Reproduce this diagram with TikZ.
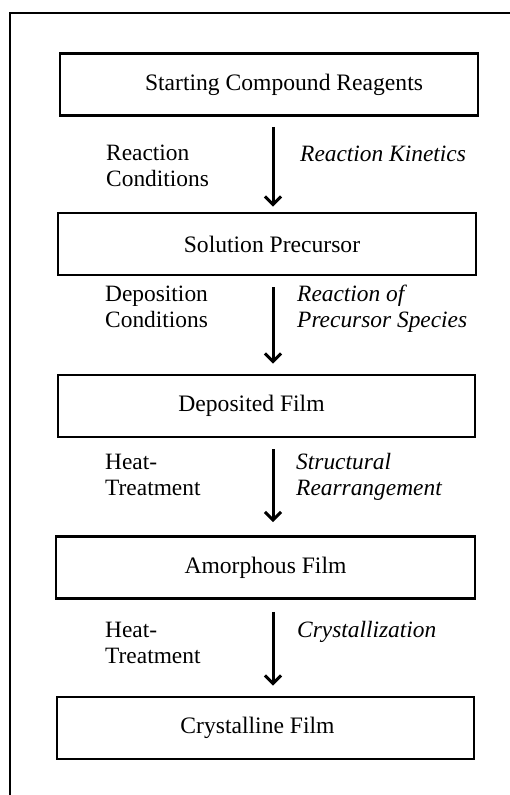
\documentclass[tikz,border=0pt]{standalone}
\usepackage{fontspec}
\setmainfont{Liberation Serif}
\usetikzlibrary{arrows.meta}
\begin{document}
\begin{tikzpicture}[x=1pt,y=-1pt,
  box/.style={draw, line width=2.8pt, minimum height=62pt, inner sep=0pt,
    font=\fontsize{23.6}{26}\selectfont},
  lbl/.style={anchor=base west, align=left, inner sep=0pt,
    font=\fontsize{23.4}{26}\selectfont},
  ilbl/.style={lbl, font=\fontsize{23.4}{26}\selectfont\itshape},
  arr/.style={line width=3pt,
    -{Straight Barb[length=8pt,width=16pt,line width=3pt]}},
  frame/.style={line width=1.8pt}]
\useasboundingbox (0,0) rectangle (510,795);
% outer frame (cut at right and bottom)
\coordinate (fbl) at (10,795);
\coordinate (ftl) at (10,13);
\coordinate (ftr) at (510,13);
\draw[frame] (fbl) -- (ftl) -- (ftr);
% boxes
\node[box, minimum width=418pt] (b1) at (269,84.5) {\hspace*{30pt}Starting Compound Reagents};
\node[box, minimum width=418pt] (b2) at (267,244) {\hspace*{10pt}Solution Precursor};
\node[box, minimum width=417pt] (b3) at (266.5,406) {Deposited Film\hspace*{30pt}};
\node[box, minimum width=419pt] (b4) at (265.5,567.5) {Amorphous Film};
\node[box, minimum width=417pt] (b5) at (265.5,728) {Crystalline Film\hspace*{16pt}};
% arrows
\coordinate (ax) at (273,0);
\draw[arr, shorten <=10pt, shorten >=5pt] (b1.south -| ax) -- (b2.north -| ax);
\draw[arr, shorten <=11pt, shorten >=10pt] (b2.south -| ax) -- (b3.north -| ax);
\draw[arr, shorten <=11pt, shorten >=13pt] (b3.south -| ax) -- (b4.north -| ax);
\draw[arr, shorten <=12pt, shorten >=10pt] (b4.south -| ax) -- (b5.north -| ax);
% labels (base anchor = baseline of last line)
\node[lbl] (l1) at (106,186) {Reaction\\Conditions};
\node[ilbl] (r1) at (300,161) {Reaction Kinetics};
\node[lbl] (l2) at (105,327) {Deposition\\Conditions};
\node[ilbl] (r2) at (297,327) {Reaction of\\Precursor Species};
\node[lbl] (l3) at (105,495) {Heat-\\Treatment};
\node[ilbl] (r3) at (296,495) {Structural\\Rearrangement};
\node[lbl] (l4) at (105,663) {Heat-\\Treatment};
\node[ilbl] (r4) at (297,637) {Crystallization};
\end{tikzpicture}
\end{document}
